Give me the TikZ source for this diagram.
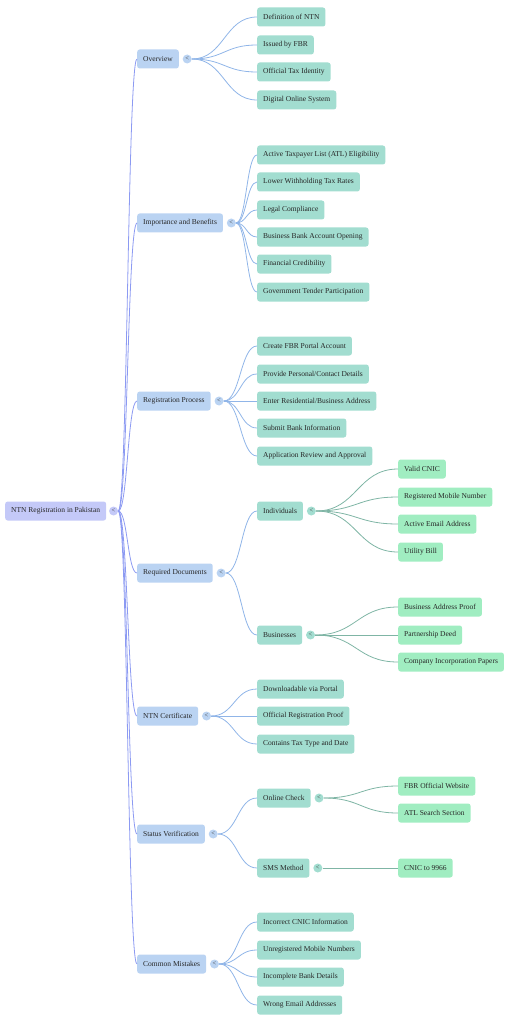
\documentclass[tikz,border=0pt]{standalone}
\usepackage{fontspec}
\setmainfont{Liberation Serif}
\usetikzlibrary{positioning,calc}
\definecolor{rootfill}{HTML}{C4C9F8}
\definecolor{topicfill}{HTML}{BAD3F2}
\definecolor{leaffill}{HTML}{A2DDD0}
\definecolor{subfill}{HTML}{A0EDC1}
\definecolor{rootline}{HTML}{8C9AF2}
\definecolor{topicline}{HTML}{90B5E8}
\definecolor{leafline}{HTML}{7FB5A5}
\tikzset{
  mapnode/.style={rectangle, rounded corners=2.5pt, minimum height=19pt, inner xsep=6pt, anchor=west, text=black!85, font=\fontsize{7.5}{9}\selectfont},
  rootnode/.style={mapnode, fill=rootfill},
  topicnode/.style={mapnode, fill=topicfill},
  leafnode/.style={mapnode, fill=leaffill},
  subnode/.style={mapnode, fill=subfill},
  fold/.style={circle, inner sep=0pt, minimum size=9pt, text=black!75, font=\fontsize{6.5}{6.5}\selectfont},
  link/.style={line width=0.8pt},
}
\newcommand{\branch}[3]{\draw[link,#3] let \p1=(#1.east), \p2=(#2.west) in (\p1) .. controls ({(\x1+\x2)/2},\y1) and ({(\x1+\x2)/2},\y2) .. (\p2);}

\begin{document}
\begin{tikzpicture}[x=1pt, y=-1pt]
    \useasboundingbox (0,0) rectangle (525,1024);
    % root
    \node[rootnode] (root) at (5,511) {NTN Registration in Pakistan};
    \node[fold, fill=rootfill, right=2.5pt of root] (rootc) {<};
    % topics
    \node[topicnode] (ov) at (137,59) {Overview};
    \node[topicnode] (ib) at (137,223) {Importance and Benefits};
    \node[topicnode] (rp) at (137,401) {Registration Process};
    \node[topicnode] (rd) at (137,573) {Required Documents};
    \node[topicnode] (nc) at (137,716) {NTN Certificate};
    \node[topicnode] (sv) at (137,834) {Status Verification};
    \node[topicnode] (cm) at (137,964) {Common Mistakes};
    \foreach \t in {ov,ib,rp,rd,nc,sv,cm} {
        \node[fold, fill=topicfill, right=3.5pt of \t] (\t c) {<};
        \branch{rootc}{\t}{rootline}
    }
    % overview
    \foreach \y/\txt [count=\i] in {17/Definition of NTN, 45/Issued by FBR, 72/Official Tax Identity, 100/Digital Online System} {
        \node[leafnode] (ov\i) at (257,\y) {\txt};
        \branch{ovc}{ov\i}{topicline}
    }
    % importance and benefits
    \foreach \y/\txt [count=\i] in {155/Active Taxpayer List (ATL) Eligibility, 182/Lower Withholding Tax Rates, 210/Legal Compliance, 237/Business Bank Account Opening, 264/Financial Credibility, 292/Government Tender Participation} {
        \node[leafnode] (ib\i) at (257,\y) {\txt};
        \branch{ibc}{ib\i}{topicline}
    }
    % registration process
    \foreach \y/\txt [count=\i] in {346/Create FBR Portal Account, 374/{Provide Personal/Contact Details}, 401/{Enter Residential/Business Address}, 428/Submit Bank Information, 456/Application Review and Approval} {
        \node[leafnode] (rp\i) at (257,\y) {\txt};
        \branch{rpc}{rp\i}{topicline}
    }
    % required documents
    \node[leafnode] (ind) at (257,511) {Individuals};
    \node[leafnode] (bus) at (257,635) {Businesses};
    \foreach \t in {ind,bus} {
        \node[fold, fill=leaffill, right=3.5pt of \t] (\t c) {<};
        \branch{rdc}{\t}{topicline}
    }
    \foreach \y/\txt [count=\i] in {469/Valid CNIC, 497/Registered Mobile Number, 524/Active Email Address, 552/Utility Bill} {
        \node[subnode] (ind\i) at (398,\y) {\txt};
        \branch{indc}{ind\i}{leafline}
    }
    \foreach \y/\txt [count=\i] in {607/Business Address Proof, 635/Partnership Deed, 662/Company Incorporation Papers} {
        \node[subnode] (bus\i) at (398,\y) {\txt};
        \branch{busc}{bus\i}{leafline}
    }
    % ntn certificate
    \foreach \y/\txt [count=\i] in {689/Downloadable via Portal, 716/Official Registration Proof, 744/Contains Tax Type and Date} {
        \node[leafnode] (nc\i) at (257,\y) {\txt};
        \branch{ncc}{nc\i}{topicline}
    }
    % status verification
    \node[leafnode] (onl) at (257,798) {Online Check};
    \node[leafnode] (sms) at (257,868) {SMS Method};
    \foreach \t in {onl,sms} {
        \node[fold, fill=leaffill, right=3.5pt of \t] (\t c) {<};
        \branch{svc}{\t}{topicline}
    }
    \foreach \y/\txt [count=\i] in {786/FBR Official Website, 813/ATL Search Section} {
        \node[subnode] (onl\i) at (398,\y) {\txt};
        \branch{onlc}{onl\i}{leafline}
    }
    \node[subnode] (sms1) at (398,868) {CNIC to 9966};
    \branch{smsc}{sms1}{leafline}
    % common mistakes
    \foreach \y/\txt [count=\i] in {922/Incorrect CNIC Information, 950/Unregistered Mobile Numbers, 977/Incomplete Bank Details, 1005/Wrong Email Addresses} {
        \node[leafnode] (cm\i) at (257,\y) {\txt};
        \branch{cmc}{cm\i}{topicline}
    }
\end{tikzpicture}
\end{document}
